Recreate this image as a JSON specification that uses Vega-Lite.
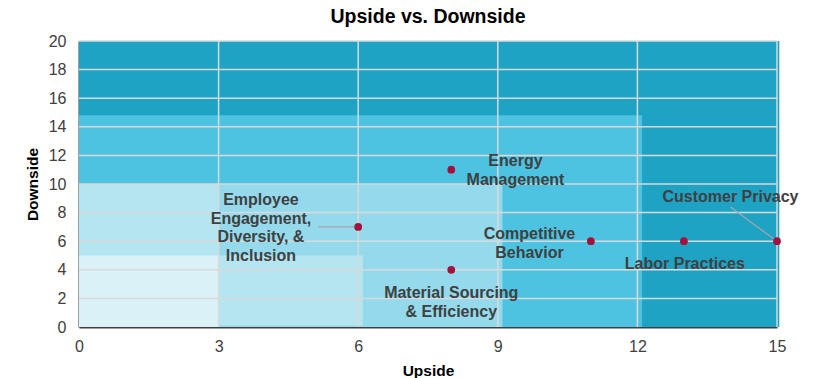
{
  "$schema": "https://vega.github.io/schema/vega-lite/v6.json",
  "width": 698,
  "height": 286,
  "autosize": {"type": "none"},
  "padding": {"left": 79, "top": 41, "right": 48, "bottom": 51},
  "background": "white",
  "config": {
    "font": "Liberation Sans",
    "view": {"stroke": null},
    "text": {"lineBreak": "\n"},
    "axisX": {"grid": false, "ticks": false, "labelFlush": false, "domainColor": "#404040", "domainWidth": 2, "labelFontSize": 16, "labelColor": "#404040", "labelPadding": 11, "labelOverlap": false, "titleFontSize": 15.5, "titleFontWeight": "bold", "titleColor": "#000000", "titlePadding": 9},
    "axisY": {"grid": false, "ticks": false, "labelFlush": false, "domainColor": "#404040", "domainWidth": 2, "labelFontSize": 16, "labelColor": "#404040", "labelPadding": 13, "labelOverlap": false, "titleFontSize": 15.5, "titleFontWeight": "bold", "titleColor": "#000000", "titlePadding": 8}
  },
  "title": {
    "text": "Upside vs. Downside",
    "fontSize": 19.5,
    "fontWeight": "bold",
    "color": "#000000",
    "anchor": "middle",
    "offset": 6
  },
  "datasets": {
    "zones": [
      {"zone": "z5", "x1": 0, "x2": 15.05, "y1": 0, "y2": 20},
      {"zone": "z4", "x1": 0, "x2": 12.1, "y1": 0, "y2": 14.8},
      {"zone": "z3", "x1": 0, "x2": 9.1, "y1": 0, "y2": 10},
      {"zone": "z2", "x1": 0, "x2": 3, "y1": 0, "y2": 10},
      {"zone": "z2", "x1": 3, "x2": 6.1, "y1": 0.1, "y2": 5},
      {"zone": "z1", "x1": 0, "x2": 3, "y1": 0, "y2": 5}
    ],
    "vgrid": [{"v": 3}, {"v": 6}, {"v": 9}, {"v": 12}, {"v": 15}],
    "hgrid": [{"v": 2}, {"v": 4}, {"v": 6}, {"v": 8}, {"v": 10}, {"v": 12}, {"v": 14}, {"v": 16}, {"v": 18}, {"v": 20}],
    "points": [
      {"topic": "Energy Management", "upside": 8, "downside": 11},
      {"topic": "Employee Engagement, Diversity, & Inclusion", "upside": 6, "downside": 7},
      {"topic": "Material Sourcing & Efficiency", "upside": 8, "downside": 4},
      {"topic": "Competitive Behavior", "upside": 11, "downside": 6},
      {"topic": "Labor Practices", "upside": 13, "downside": 6},
      {"topic": "Customer Privacy", "upside": 15, "downside": 6}
    ],
    "labels": [
      {"label": "Energy\nManagement", "lx": 9.38, "ly": 11.58},
      {"label": "Employee\nEngagement,\nDiversity, &\nInclusion", "lx": 3.91, "ly": 8.87},
      {"label": "Material Sourcing\n& Efficiency", "lx": 8.0, "ly": 2.36},
      {"label": "Competitive\nBehavior", "lx": 9.68, "ly": 6.5},
      {"label": "Labor Practices", "lx": 13.02, "ly": 4.43},
      {"label": "Customer Privacy", "lx": 14.0, "ly": 9.12}
    ],
    "leaders": [
      {"topic": "Employee", "x1": 5.14, "y1": 7, "x2": 6, "y2": 7},
      {"topic": "Customer Privacy", "x1": 14.0, "y1": 8.39, "x2": 15, "y2": 6}
    ]
  },
  "layer": [
    {
      "data": {"name": "zones"},
      "mark": {"type": "rect"},
      "encoding": {
        "x": {"field": "x1", "type": "quantitative", "scale": {"domain": [0, 15], "nice": false},
          "axis": {"values": [0, 3, 6, 9, 12, 15], "title": "Upside"}},
        "x2": {"field": "x2"},
        "y": {"field": "y1", "type": "quantitative", "scale": {"domain": [0, 20], "nice": false},
          "axis": {"values": [0, 2, 4, 6, 8, 10, 12, 14, 16, 18, 20], "title": "Downside"}},
        "y2": {"field": "y2"},
        "color": {"field": "zone", "type": "nominal", "legend": null,
          "scale": {"domain": ["z1", "z2", "z3", "z4", "z5"], "range": ["#DAF1F7", "#B5E5F0", "#95DAEC", "#4DC3E1", "#1FA3C4"]}}
      }
    },
    {
      "data": {"name": "vgrid"},
      "mark": {"type": "rule", "color": "#D9D9D9", "strokeWidth": 1.5},
      "encoding": {"x": {"field": "v", "type": "quantitative", "axis": {"values": [0, 3, 6, 9, 12, 15], "title": "Upside"}}}
    },
    {
      "data": {"name": "hgrid"},
      "mark": {"type": "rule", "color": "#D9D9D9", "strokeWidth": 1.5},
      "encoding": {"y": {"field": "v", "type": "quantitative", "axis": {"values": [0, 2, 4, 6, 8, 10, 12, 14, 16, 18, 20], "title": "Downside"}}}
    },
    {
      "data": {"name": "leaders"},
      "mark": {"type": "rule", "color": "#A6A6A6", "strokeWidth": 1.2},
      "encoding": {
        "x": {"field": "x1", "type": "quantitative", "axis": {"values": [0, 3, 6, 9, 12, 15], "title": "Upside"}},
        "y": {"field": "y1", "type": "quantitative", "axis": {"values": [0, 2, 4, 6, 8, 10, 12, 14, 16, 18, 20], "title": "Downside"}},
        "x2": {"field": "x2"},
        "y2": {"field": "y2"}
      }
    },
    {
      "data": {"name": "points"},
      "mark": {"type": "circle", "size": 60, "color": "#A5113D", "opacity": 1},
      "encoding": {
        "x": {"field": "upside", "type": "quantitative", "axis": {"values": [0, 3, 6, 9, 12, 15], "title": "Upside"}},
        "y": {"field": "downside", "type": "quantitative", "axis": {"values": [0, 2, 4, 6, 8, 10, 12, 14, 16, 18, 20], "title": "Downside"}},
        "tooltip": [{"field": "topic"}]
      }
    },
    {
      "data": {"name": "labels"},
      "mark": {"type": "text", "fontSize": 16, "fontWeight": "bold", "color": "#404040", "align": "center", "baseline": "middle", "lineHeight": 18.5},
      "encoding": {
        "x": {"field": "lx", "type": "quantitative", "axis": {"values": [0, 3, 6, 9, 12, 15], "title": "Upside"}},
        "y": {"field": "ly", "type": "quantitative", "axis": {"values": [0, 2, 4, 6, 8, 10, 12, 14, 16, 18, 20], "title": "Downside"}},
        "text": {"field": "label"}
      }
    }
  ]
}
